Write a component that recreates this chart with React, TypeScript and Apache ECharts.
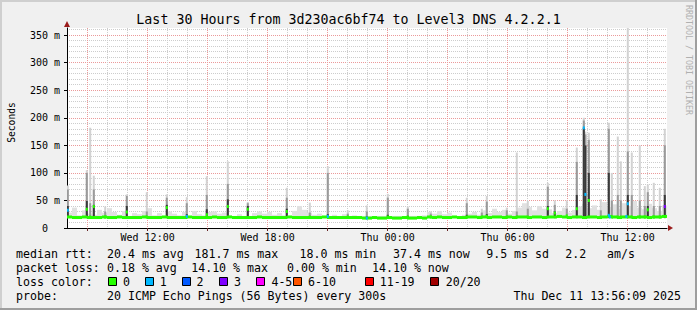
import React, { useEffect, useRef } from 'react';
import * as echarts from 'echarts';

// ---------- data ----------
const TITLE = 'Last 30 Hours from 3d230ac6bf74 to Level3 DNS 4.2.2.1';
// x values are hours since Wed 00:00
const X_MIN = 7.97;
const X_MAX = 37.97;
const Y_MAX = 363; // ms
const MIN_RTT = 18.0;
const X_TICK_LABELS: Record<number, string> = {
  12: 'Wed 12:00',
  18: 'Wed 18:00',
  24: 'Thu 00:00',
  30: 'Thu 06:00',
  36: 'Thu 12:00',
};
const BIN_HOURS = 0.25; // baseline bins (15 min)
const PING_BIN_HOURS = 5 / 60; // one 300s measurement

// median rtt per 15-minute bin (ms)
const BASE_MEDIAN = [
  20, 19, 19, 20, 19, 19, 19, 20, 19, 19,
  20, 19, 19, 19, 19, 20, 19, 19, 19, 20,
  19, 19, 19, 19, 20, 19, 19, 19, 19, 20,
  19, 19, 20, 19, 19, 19, 19, 19, 20, 19,
  19, 19, 19, 19, 20, 19, 19, 19, 19, 19,
  19, 20, 19, 19, 19, 19, 19, 19, 19, 18,
  18, 19, 18, 18, 19, 18, 18, 19, 18, 18, 19, 18,
  20, 19, 20, 19, 19, 20, 19, 19, 20, 20,
  19, 20, 19, 20, 20, 19, 20, 19, 20, 20,
  19, 20, 20, 19, 20, 20, 21, 20, 19, 20,
  20, 19, 20, 20, 19, 20, 21, 20, 19, 20,
  20, 19, 20, 20, 19, 20, 20, 21,
];

// top of the background smoke per 15-minute bin (ms)
const BASE_SMOKE = [
  28, 37, 23, 32, 26, 24, 33, 28, 36, 29,
  24, 31, 22, 27, 25, 31, 36, 23, 27, 22,
  30, 26, 23, 29, 22, 31, 25, 23, 29, 30,
  26, 28, 23, 22, 25, 22, 22, 27, 30, 26,
  29, 24, 27, 23, 22, 31, 40, 33, 28, 24,
  26, 22, 22, 24, 22, 25, 22, 23, 22, 22,
  22, 21, 22, 22, 21, 22, 22, 21, 22, 22, 22, 23,
  29, 26, 31, 25, 28,
  22, 22, 24,
  26, 29, 24,
  32, 27, 35, 29, 33, 26, 31,
  37, 45, 38, 32, 40, 35,
  34, 27, 31, 37, 28, 33,
  39, 44, 36,
  41, 33, 47, 38,
  43, 35, 45, 40, 49, 37, 34, 44, 36, 31, 41,
];

// individual 5-minute samples that stand out: [hour, median, p75, p90, max, lost pings]
const SPIKES: number[][] = [
  [7.96, 32, 40, 70, 77, 1],
  [8.91, 34, 49, 100, 105, 0],
  [9.08, 20, 21, 45, 182, 0],
  [9.26, 39, 42, 70, 95, 0],
  [9.83, 20, 21, 30, 39, 0],
  [10.91, 29, 40, 58, 61, 0],
  [11.91, 20, 21, 30, 65, 0],
  [12.91, 37, 42, 55, 61, 0],
  [13.91, 21, 25, 45, 56, 1],
  [14.91, 24, 34, 60, 94, 0],
  [15.96, 39, 52, 80, 121, 0],
  [16.96, 34, 40, 45, 47, 0],
  [18.91, 30, 35, 55, 73, 0],
  [20.06, 20, 21, 28, 46, 0],
  [20.96, 21, 25, 100, 112, 1],
  [21.96, 20, 21, 26, 32, 0],
  [22.91, 18, 21, 30, 41, 1],
  [23.96, 20, 24, 55, 62, 0],
  [24.96, 20, 22, 35, 39, 0],
  [26.11, 20, 21, 26, 30, 0],
  [27.91, 20, 24, 45, 55, 0],
  [28.66, 20, 21, 28, 35, 0],
  [28.91, 21, 25, 48, 58, 0],
  [29.91, 20, 21, 32, 37, 0],
  [30.41, 20, 21, 30, 137, 0],
  [30.96, 20, 21, 35, 49, 0],
  [31.96, 35, 40, 75, 82, 0],
  [32.31, 27, 30, 42, 50, 0],
  [32.91, 22, 21, 35, 50, 0],
  [33.41, 35, 60, 120, 146, 0],
  [33.76, 181.7, 182, 195, 200, 1],
  [33.84, 61, 150, 170, 175, 1],
  [34.01, 50, 100, 160, 173, 0],
  [34.61, 20, 21, 32, 52, 0],
  [35.01, 23, 100, 180, 191, 1],
  [35.16, 20, 21, 50, 100, 0],
  [35.46, 20, 21, 60, 166, 0],
  [35.61, 20, 21, 50, 121, 0],
  [35.96, 44, 60, 139, 370, 1],
  [36.16, 20, 21, 60, 137, 0],
  [36.56, 20, 21, 50, 150, 0],
  [36.81, 20, 21, 40, 76, 0],
  [36.96, 33, 40, 65, 79, 0],
  [37.26, 20, 21, 40, 82, 0],
  [37.56, 20, 21, 40, 73, 0],
  [37.81, 39, 60, 150, 180, 3],
];

// extra samples with packet loss on the baseline: [hour, median, lost pings]
const LOSS_MARKS: number[][] = [
  [35.06, 20, 1],
  [35.89, 21, 1],
];

const LOSS_LABELS = ['0', '1', '2', '3', '4-5', '6-10', '11-19', '20/20'];
const LOSS_COLORS = ['#26ff00', '#00b8ff', '#0059ff', '#7e00ff', '#ff00ff', '#ff5500', '#ff0000', '#a10000'];
const SMOKE_SHADES = ['#e1e1e1', '#d2d2d2', '#9a9a9a', '#3a3a3a'];

const STATS_RTT: [string, number][] = [
  ['median rtt:', 16], ['20.4 ms avg', 107], ['181.7 ms max', 194.5], ['18.0 ms min', 299.5],
  ['37.4 ms now', 393], ['9.5 ms sd', 486.2], ['2.2   am/s', 565.2],
];
const STATS_LOSS: [string, number][] = [
  ['packet loss:', 16], ['0.18 % avg', 107], ['14.10 % max', 191.2], ['0.00 % min', 287], ['14.10 % now', 372],
];
const LOSS_BOX_X = [108.5, 145.5, 182.5, 219.5, 256.5, 293.5, 365.5, 430.5];
const LOSS_TEXT_X = [123, 159.7, 196.4, 234, 271.4, 308, 379.7, 445.7];
const PROBE_TEXT = '20 ICMP Echo Pings (56 Bytes) every 300s';
const STAMP_TEXT = 'Thu Dec 11 13:56:09 2025';

function lossIndex(n: number): number {
  if (n <= 0) return 0;
  if (n <= 3) return n;
  if (n <= 5) return 4;
  if (n <= 10) return 5;
  if (n <= 19) return 6;
  return 7;
}

const MONO = '"DejaVu Sans Mono", monospace';

export default function App() {
  const ref = useRef<HTMLDivElement>(null);
  useEffect(() => {
    if (!ref.current) return;
    const chart = echarts.init(ref.current, undefined, { renderer: 'svg' });

    const smokeData: number[][] = [];
    BASE_SMOKE.forEach((top, i) => {
      const t0 = X_MIN + i * BIN_HOURS;
      smokeData.push([t0, t0 + BIN_HOURS, MIN_RTT, top, 0]);
    });
    SPIKES.forEach((s) => smokeData.push([s[0], s[0] + PING_BIN_HOURS, MIN_RTT, s[4], 1]));
    SPIKES.forEach((s) => smokeData.push([s[0], s[0] + PING_BIN_HOURS, MIN_RTT, s[3], 2]));
    SPIKES.forEach((s) => smokeData.push([s[0], s[0] + PING_BIN_HOURS, MIN_RTT, s[2], 3]));

    const medianData: number[][] = [];
    BASE_MEDIAN.forEach((m, i) => {
      const t0 = X_MIN + i * BIN_HOURS;
      medianData.push([t0, t0 + BIN_HOURS, m, 0]);
    });
    SPIKES.forEach((s) => medianData.push([s[0], s[0] + PING_BIN_HOURS, s[1], lossIndex(s[5])]));
    LOSS_MARKS.forEach((s) => medianData.push([s[0], s[0] + PING_BIN_HOURS, s[1], lossIndex(s[2])]));

    const text = (t: string, x: number, y: number, extra: any = {}) => ({
      type: 'text',
      x,
      y,
      silent: true,
      style: { text: t, font: `11.6px ${MONO}`, fill: '#000', textVerticalAlign: 'middle', ...extra },
    });

    const graphics: any[] = [
      // frame
      { type: 'rect', shape: { x: 0, y: 0, width: 697, height: 2 }, style: { fill: '#cfcfcf' } },
      { type: 'rect', shape: { x: 0, y: 0, width: 2, height: 310 }, style: { fill: '#cfcfcf' } },
      { type: 'rect', shape: { x: 0, y: 308, width: 697, height: 2 }, style: { fill: '#9e9e9e' } },
      { type: 'rect', shape: { x: 695, y: 0, width: 2, height: 310 }, style: { fill: '#9e9e9e' } },
      text(TITLE, 348.5, 19.5, { font: `13.3px ${MONO}`, textAlign: 'center' }),
      {
        type: 'text', x: 11, y: 122.5, rotation: Math.PI / 2, silent: true,
        style: { text: 'Seconds', font: `9.6px ${MONO}`, fill: '#000', textAlign: 'center', textVerticalAlign: 'middle' },
      },
      {
        type: 'text', x: 689, y: 60, rotation: -Math.PI / 2, silent: true,
        style: { text: 'RRDTOOL / TOBI OETIKER', font: `8.3px ${MONO}`, fill: '#b0b0b0', textAlign: 'center', textVerticalAlign: 'middle' },
      },
      // axis arrows
      { type: 'polygon', shape: { points: [[64, 27], [70, 27], [67, 21]] }, style: { fill: '#9b1c1c' } },
      { type: 'polygon', shape: { points: [[668, 225], [668, 231], [673, 228]] }, style: { fill: '#9b1c1c' } },
    ];
    STATS_RTT.forEach(([t, x]) => graphics.push(text(t, x, 253.5)));
    STATS_LOSS.forEach(([t, x]) => graphics.push(text(t, x, 267.8)));
    graphics.push(text('loss color:', 16, 282));
    LOSS_LABELS.forEach((l, i) => {
      graphics.push({
        type: 'rect',
        shape: { x: LOSS_BOX_X[i], y: 277.5, width: 8, height: 8 },
        style: { fill: LOSS_COLORS[i], stroke: '#000', lineWidth: 1 },
      });
      graphics.push(text(l, LOSS_TEXT_X[i], 282));
    });
    graphics.push(text('probe:', 16, 296.3));
    graphics.push(text(PROBE_TEXT, 107, 296.3));
    graphics.push(text(STAMP_TEXT, 681, 296.3, { textAlign: 'right' }));

    const option: any = {
      animation: false,
      backgroundColor: '#f0f0f0',
      grid: { left: 67, right: 30, top: 28, bottom: 82, show: true, backgroundColor: '#ffffff', borderWidth: 0 },
      xAxis: {
        type: 'value',
        min: X_MIN,
        max: X_MAX,
        splitNumber: 10,
        minInterval: 3,
        maxInterval: 3,
        axisLine: { show: true, onZero: false, lineStyle: { color: '#000', width: 1 } },
        axisTick: { show: true, length: 3, lineStyle: { color: '#6a2a2a' } },
        axisLabel: {
          fontFamily: MONO,
          fontSize: 10,
          color: '#000',
          margin: 4,
          showMinLabel: false,
          showMaxLabel: false,
          formatter: (v: number) => {
            const r = Math.round(v);
            return Math.abs(v - r) < 1e-6 && X_TICK_LABELS[r] ? X_TICK_LABELS[r] : '';
          },
        },
        splitLine: { show: true, showMinLine: false, showMaxLine: false, lineStyle: { color: '#eb9a9a', type: [1, 1], width: 1 } },
        minorTick: { show: false, splitNumber: 3 },
        minorSplitLine: { show: true, lineStyle: { color: '#cdcdcd', type: [1, 1], width: 1 } },
      },
      yAxis: {
        type: 'value',
        min: 0,
        max: Y_MAX,
        interval: 50,
        axisLine: { show: true, onZero: false, lineStyle: { color: '#000', width: 1 } },
        axisTick: { show: true, length: 3, lineStyle: { color: '#000' } },
        axisLabel: {
          fontFamily: MONO,
          fontSize: 10,
          color: '#000',
          margin: 7,
          showMaxLabel: false,
          formatter: (v: number) => (v === 0 ? '0\u00a0\u00a0' : `${v} m`),
        },
        splitLine: { show: true, showMinLine: false, showMaxLine: false, lineStyle: { color: '#eb9a9a', type: [1, 1], width: 1 } },
        minorTick: { show: false, splitNumber: 5 },
        minorSplitLine: { show: true, lineStyle: { color: '#cdcdcd', type: [1, 1], width: 1 } },
      },
      series: [
        {
          type: 'custom',
          name: 'smoke',
          clip: true,
          z: 3,
          silent: true,
          data: smokeData,
          renderItem: (params: any, api: any) => {
            const a = api.coord([api.value(0), api.value(3)]);
            const b = api.coord([api.value(1), api.value(2)]);
            return {
              type: 'rect',
              shape: { x: a[0], y: a[1], width: Math.max(b[0] - a[0], 2), height: b[1] - a[1] },
              style: { fill: SMOKE_SHADES[api.value(4)] },
            };
          },
        },
        {
          type: 'custom',
          name: 'median',
          clip: true,
          z: 4,
          silent: true,
          data: medianData,
          renderItem: (params: any, api: any) => {
            const a = api.coord([api.value(0), api.value(2)]);
            const b = api.coord([api.value(1), api.value(2)]);
            return {
              type: 'rect',
              shape: { x: a[0], y: a[1] - 1.5, width: Math.max(b[0] - a[0], 2), height: 3 },
              style: { fill: LOSS_COLORS[api.value(3)] },
            };
          },
        },
      ],
      graphic: graphics,
    };
    chart.setOption(option);
    return () => chart.dispose();
  }, []);
  return <div ref={ref} style={{ position: 'absolute', left: 0, top: 0, width: 697, height: 310 }} />;
}
